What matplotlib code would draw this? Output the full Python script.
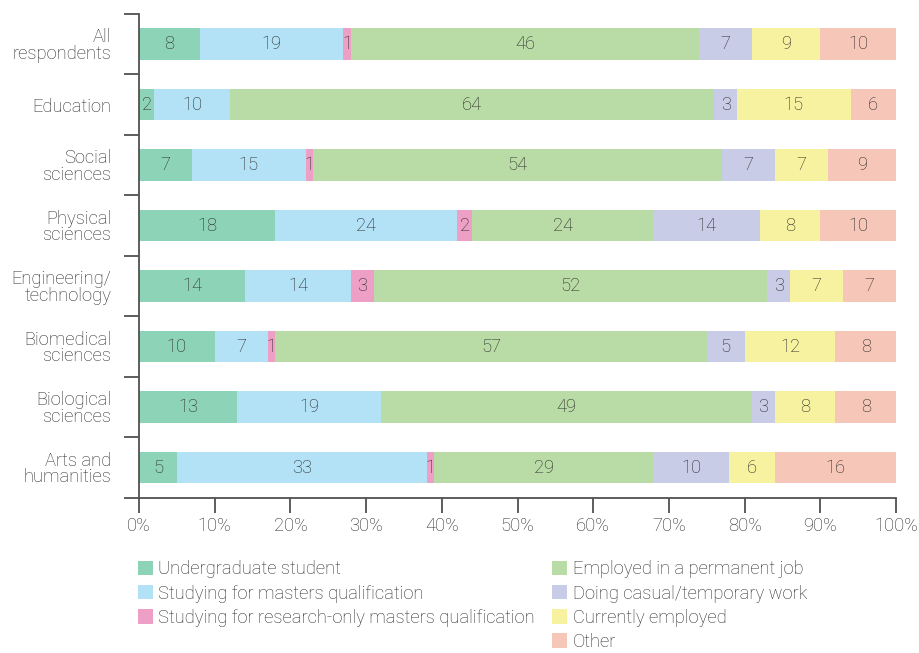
import matplotlib
matplotlib.use("Agg")
import matplotlib.pyplot as plt
import numpy as np
from matplotlib.patches import Patch

plt.rcParams["font.family"] = ["Roboto", "DejaVu Sans"]
plt.rcParams["font.weight"] = "light"

categories = [
    "All\nrespondents",
    "Education",
    "Social\nsciences",
    "Physical\nsciences",
    "Engineering/\ntechnology",
    "Biomedical\nsciences",
    "Biological\nsciences",
    "Arts and\nhumanities",
]

series_names = [
    "Undergraduate student",
    "Studying for masters qualification",
    "Studying for research-only masters qualification",
    "Employed in a permanent job",
    "Doing casual/temporary work",
    "Currently employed",
    "Other",
]

undergrad = [8, 2, 7, 18, 14, 10, 13, 5]
masters = [19, 10, 15, 24, 14, 7, 19, 33]
research_masters = [1, 0, 1, 2, 3, 1, 0, 1]
permanent = [46, 64, 54, 24, 52, 57, 49, 29]
casual = [7, 3, 7, 14, 3, 5, 3, 10]
currently = [9, 15, 7, 8, 7, 12, 8, 6]
other = [10, 6, 9, 10, 7, 8, 8, 16]

series = [undergrad, masters, research_masters, permanent, casual, currently, other]
colors = ["#8dd3b8", "#b3e1f6", "#ee9fc5", "#b9dba5", "#c8cce6", "#f7f29f", "#f6c7b8"]

text_color = "#2a2a2a"
axis_color = "#505050"
fs = 13.2

fig = plt.figure(figsize=(9.19, 6.53), dpi=100)
ax = fig.add_axes([0.1513, 0.2374, 0.8237, 0.7412])

y = np.arange(len(categories))
left = np.zeros(len(categories))
for values, color in zip(series, colors):
    vals = np.array(values, dtype=float)
    bars = ax.barh(y, vals, left=left, height=0.52, color=color, linewidth=0)
    for rect, v in zip(bars, vals):
        if v > 0:
            ax.text(rect.get_x() + rect.get_width() / 2, rect.get_y() + rect.get_height() / 2,
                    f"{int(v)}", ha="center", va="center", fontsize=fs, color=text_color)
    left += vals

ax.set_xlim(0, 100)
ax.set_ylim(len(categories) - 0.5, -0.5)

ax.set_xticks(np.arange(0, 101, 10))
ax.set_xticklabels([f"{v}%" for v in range(0, 101, 10)])
ax.set_yticks(y)
ax.set_yticklabels(categories, linespacing=0.9)
ax.set_yticks(np.arange(len(categories) + 1) - 0.5, minor=True)

ax.tick_params(axis="x", direction="out", length=11, width=1.3, color=axis_color,
               labelsize=fs, labelcolor=text_color, pad=3)
ax.tick_params(axis="y", which="major", length=0, pad=20, labelsize=fs, labelcolor=text_color)
ax.tick_params(axis="y", which="minor", direction="out", length=11, width=1.3, color=axis_color)
for lbl in ax.get_yticklabels():
    lbl.set_horizontalalignment("right")

for side in ("top", "right"):
    ax.spines[side].set_visible(False)
for side in ("left", "bottom"):
    ax.spines[side].set_color(axis_color)
    ax.spines[side].set_linewidth(1.3)

handles = [Patch(facecolor=c, edgecolor="none") for c in colors]
leg_kw = dict(frameon=False, fontsize=fs, handlelength=0.82, handleheight=0.82,
              handletextpad=0.3, labelspacing=0.34, borderpad=0, borderaxespad=0,
              loc="upper left", labelcolor=text_color)
fig.legend(handles[:3], series_names[:3], bbox_to_anchor=(0.150, 0.142), **leg_kw)
fig.legend(handles[3:], series_names[3:], bbox_to_anchor=(0.601, 0.142), **leg_kw)

fig.savefig("out.png", dpi=100)
